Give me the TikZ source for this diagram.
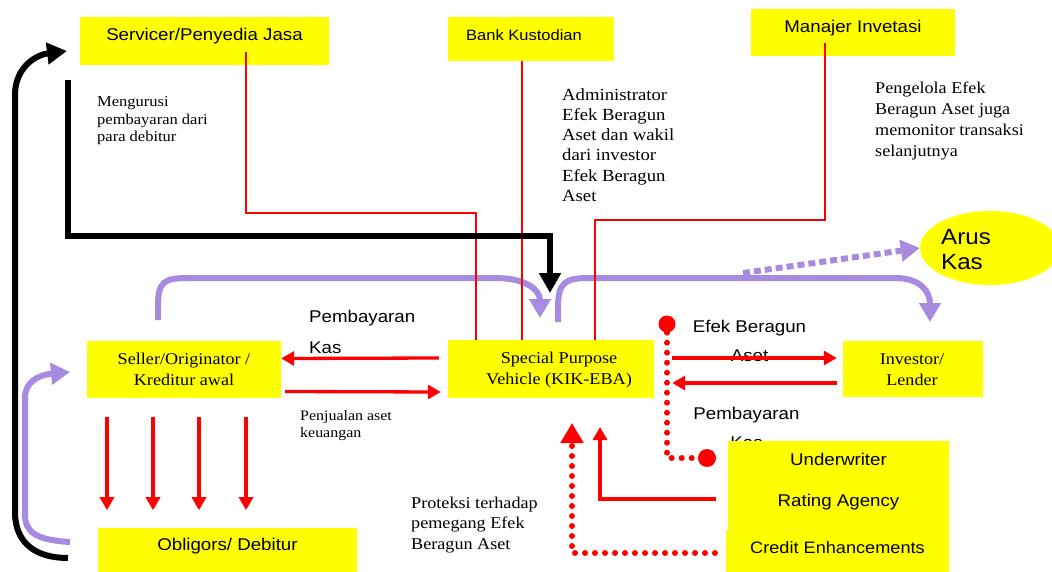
\documentclass[tikz,border=0pt]{standalone}
\usepackage{fontspec}
\setmainfont{Liberation Serif}[FakeStretch=1.1]
\newfontfamily\sansf{Liberation Sans}[FakeStretch=1.1]
\usetikzlibrary{arrows.meta,shapes.geometric}
\definecolor{purp}{RGB}{167,139,224}
\definecolor{ylw}{RGB}{255,255,0}
\newcommand\myfs[2]{\fontsize{#1}{#2}\selectfont}
\begin{document}
\begin{tikzpicture}[x=1pt,y=-1pt,
  ybox/.style={fill=ylw, inner sep=0pt, draw=none},
  txt/.style={inner sep=0pt, anchor=west, align=left},
  thinred/.style={red, line width=1.5pt},
  redarrow/.style={red, line width=3.3pt, -{Triangle[length=13pt,width=14pt]}},
  purparrow/.style={purp, line width=6pt, -{Triangle[length=19pt,width=21pt]}},
  blkarrow/.style={black, line width=6pt, -{Triangle[length=20pt,width=21pt]}},
  dotred/.style={red, line width=6pt, line cap=round, dash pattern=on 0pt off 10pt}
]
\useasboundingbox (0,0) rectangle (1052,572);
\clip (0,0) rectangle (1052,572);

% free texts
\node[txt, font=\myfs{15}{17.5}] (meng) at (97,121) {Mengurusi\\pembayaran dari\\para debitur};
\node[txt, font=\myfs{17}{20.3}] (admin) at (562,145) {Administrator\\Efek Beragun\\Aset dan wakil\\dari investor\\Efek Beragun\\Aset};
\node[txt, font=\myfs{16.5}{20.7}] (peng) at (875,121) {Pengelola Efek\\Beragun Aset juga\\memonitor transaksi\\selanjutnya};
\node[txt, font=\myfs{14.5}{17}] (penj) at (300,426) {Penjualan aset\\keuangan};
\node[txt, font=\myfs{16.5}{20.5}] (prot) at (411,525) {Proteksi terhadap\\pemegang Efek\\Beragun Aset};
\node[txt, font=\sansf\myfs{17}{31}] (pemb1) at (309,331.5) {Pembayaran\\Kas};
\node[inner sep=0pt, align=center, font=\sansf\myfs{17}{29}] (efek) at (749.5,340.5) {Efek Beragun\\Aset};
\node[inner sep=0pt, align=center, font=\sansf\myfs{17}{29}] (pemb2) at (746.5,427.5) {Pembayaran\\Kas};

% boxes
\node[ybox, minimum width=249pt, minimum height=48pt,
  label={[yshift=5pt, font=\sansf\myfs{17}{20}]center:Servicer/Penyedia Jasa}] (serv) at (204.5,41) {};
\node[ybox, minimum width=166pt, minimum height=44pt,
  label={[xshift=-7pt, yshift=4pt, font=\sansf\myfs{15}{18}]center:Bank Kustodian}] (bank) at (531,39) {};
\node[ybox, minimum width=204pt, minimum height=47pt,
  label={[yshift=4.5pt, font=\sansf\myfs{17}{20}]center:Manajer Invetasi}] (mgr) at (853,32.5) {};
\node[ybox, minimum width=194pt, minimum height=57pt,
  label={[align=center, font=\myfs{16.5}{21}]center:Seller/Originator /\\Kreditur awal}] (seller) at (184,369.5) {};
\node[ybox, minimum width=206pt, minimum height=58pt,
  label={[xshift=8pt, yshift=-1pt, align=center, font=\myfs{16.5}{21}]center:Special Purpose\\Vehicle (KIK-EBA)}] (spv) at (551,369) {};
\node[ybox, minimum width=140pt, minimum height=56pt,
  label={[xshift=-1pt, yshift=-1pt, align=center, font=\myfs{16.5}{21}]center:Investor/\\Lender}] (inv) at (913,369) {};
\node[ybox, minimum width=259pt, minimum height=44pt,
  label={[yshift=4pt, font=\sansf\myfs{17}{20}]center:Obligors/ Debitur}] (obl) at (227.5,550) {};
\node[ybox, minimum width=221pt, minimum height=41pt,
  label={[yshift=2.5pt, font=\sansf\myfs{17}{20}]center:Underwriter}] (und) at (838.5,461.5) {};
\node[ybox, minimum width=221pt, minimum height=48pt,
  label={[yshift=4pt, font=\sansf\myfs{17}{20}]center:Rating Agency}] (rat) at (838.5,506) {};
\node[ybox, minimum width=223pt, minimum height=42pt,
  label={[yshift=3pt, font=\sansf\myfs{16.5}{20}]center:Credit Enhancements}] (cred) at (837.5,551) {};
\node[ybox, ellipse, minimum width=140pt, minimum height=74pt,
  label={[xshift=-24pt, yshift=-1.5pt, align=left, font=\sansf\myfs{22}{25}]center:Arus\\Kas}] (arus) at (990,248) {};

% purple arrows
\draw[purparrow] (158,320) -- (158,306) .. controls (158,281) and (164,278) .. (190,278)
  -- (495,278) .. controls (526,278) and (540,290) .. (540,318);
\draw[purparrow] (558,322) -- (558,308) .. controls (558,282) and (565,278) .. (590,278)
  -- (895,278) .. controls (921,278) and (930,292) .. (930,322);
\draw[purparrow] (70,542) .. controls (36,540) and (25,532) .. (25,515) -- (25,398)
  .. controls (25,382) and (38,375) .. (70,372);
\draw[purp, line width=6pt, dash pattern=on 7pt off 4pt, -{Triangle[length=19pt,width=21pt]}]
  (743,273) -- (arus.west);

% thin red connectors from the top boxes
\coordinate (s1) at (246,52);
\coordinate (s2) at (476,213);
\draw[thinred] (s1) |- (s2) -- (s2 |- spv.north);
\coordinate (b1) at (522,61);
\draw[thinred] (b1) -- (b1 |- spv.north);
\coordinate (m1) at (825,43);
\coordinate (m2) at (595,220);
\draw[thinred] (m1) |- (m2) -- (m2 |- spv.north);

% black arrows
\draw[blkarrow] (68,558) .. controls (38,558) and (15,545) .. (15,512) -- (15,95)
  .. controls (15,68) and (35,55) .. (67,51);
\coordinate (k1) at (68,80);
\coordinate (k2) at (550,293);
\draw[blkarrow] (k1) |- (k2 |- 0,236) -- (k2);

% red arrows
\draw[redarrow] ([xshift=-9pt,yshift=11pt]spv.west) -- ([yshift=11pt]seller.east);
\draw[redarrow] ([xshift=4pt,yshift=-22pt]seller.east) -- ([xshift=-7pt,yshift=-23pt]spv.west);
\draw[redarrow] ([xshift=18pt,yshift=11pt]spv.east) -- ([xshift=-6pt,yshift=11pt]inv.west);
\draw[redarrow] ([xshift=-6pt,yshift=-14pt]inv.west) -- ([xshift=18pt,yshift=-14pt]spv.east);
\foreach \dx in {-77,-31,15,62}
  \draw[redarrow] ([xshift=\dx pt,yshift=-19pt]seller.south) -- ++(0,93);
\coordinate (r1) at (716,499);
\coordinate (r2) at (600,427);
\draw[redarrow] (r1) -| (r2);

% red dotted links
\node[circle, fill=red, inner sep=0pt, minimum size=17pt] (d1) at (667,324) {};
\node[circle, fill=red, inner sep=0pt, minimum size=18pt] (d2) at (707,458) {};
\draw[dotred] (d1) |- (d2);
\coordinate (c1) at (715,553);
\coordinate (c2) at (572,423);
\draw[dotred, -{Triangle[length=20pt,width=22pt]}] (c1) -| (c2);
\end{tikzpicture}
\end{document}
